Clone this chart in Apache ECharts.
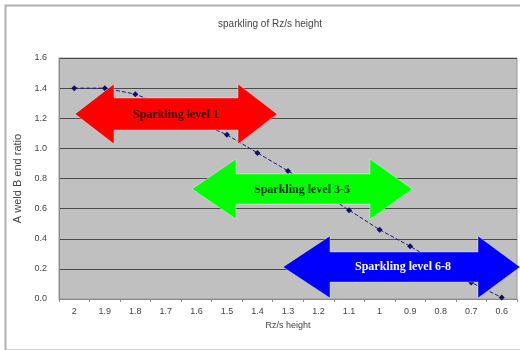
<!DOCTYPE html>
<html>
<head>
<meta charset="utf-8">
<script src="https://cdn.jsdelivr.net/npm/echarts@6/dist/echarts.min.js"></script>
<style>
  html, body { margin: 0; padding: 0; background: #ffffff; }
  #chart { width: 520px; height: 350px; }
</style>
</head>
<body>
<div id="chart"></div>
<script>
// Rz/s height categories along the x axis
var heights = ['2', '1.9', '1.8', '1.7', '1.6', '1.5', '1.4', '1.3', '1.2', '1.1', '1', '0.9', '0.8', '0.7', '0.6'];
// measured A/B end ratio per height
var ratios = [1.40, 1.40, 1.36, 1.28, 1.18, 1.09, 0.97, 0.85, 0.72, 0.59, 0.46, 0.35, 0.23, 0.11, 0.01];
// y axis range
var yMin = 0, yMax = 1.6, yStep = 0.2;
// level bands shown as double arrows
var levelLabels = ['Sparkling level 1', 'Sparkling level 3-5', 'Sparkling level 6-8'];

function doubleArrow(x0, x1, x2, x3, yc, shaftHalf, headHalf) {
  return [
    [x0, yc],
    [x1, yc - headHalf],
    [x1, yc - shaftHalf],
    [x2, yc - shaftHalf],
    [x2, yc - headHalf],
    [x3, yc],
    [x2, yc + headHalf],
    [x2, yc + shaftHalf],
    [x1, yc + shaftHalf],
    [x1, yc + headHalf]
  ];
}

function arrowShapes(points, fill, text, textColor, cx, cy) {
  return [
    {
      type: 'polygon',
      z: 100,
      shape: { points: points },
      style: { fill: fill, stroke: 'rgba(255,255,255,0.35)', lineWidth: 1 }
    },
    {
      type: 'text',
      z: 101,
      x: cx,
      y: cy,
      style: {
        text: text,
        fill: textColor,
        font: 'bold 12px "Liberation Serif", "DejaVu Serif", serif',
        align: 'center',
        verticalAlign: 'middle'
      }
    }
  ];
}

var chart = echarts.init(document.getElementById('chart'), null, { renderer: 'canvas' });

var graphics = [{
  type: 'rect',
  z: 0,
  shape: { x: 5.5, y: 5.5, width: 520, height: 345 },
  style: { fill: 'none', stroke: '#b0b0b0', lineWidth: 2 }
}].concat(
  arrowShapes(doubleArrow(75, 114, 238, 277, 114, 16, 30), '#ff0000', levelLabels[0], '#3a0000', 176, 115),
  arrowShapes(doubleArrow(192, 236, 370, 412, 189, 15, 30), '#00ff00', levelLabels[1], '#0a2a0a', 302, 190),
  arrowShapes(doubleArrow(283, 330, 478, 520, 267, 15, 31), '#0000ff', levelLabels[2], '#ffffff', 403, 267)
);

chart.setOption({
  animation: false,
  backgroundColor: '#ffffff',
  title: {
    text: 'sparkling of Rz/s height',
    left: 265,
    top: 14,
    textAlign: 'center',
    textStyle: { fontSize: 10, fontWeight: 'normal', color: '#444', fontFamily: 'Arial, "Liberation Sans", sans-serif' }
  },
  grid: { left: 59, right: 3, top: 58, bottom: 51, show: true, backgroundColor: '#c0c0c0', borderColor: '#9a9a9a', borderWidth: 1 },
  xAxis: {
    type: 'category',
    data: heights,
    boundaryGap: true,
    name: 'Rz/s height',
    nameLocation: 'middle',
    nameGap: 22,
    nameTextStyle: { fontSize: 9, color: '#444', fontFamily: 'Arial, "Liberation Sans", sans-serif' },
    axisLine: { lineStyle: { color: '#8a8a8a' } },
    axisTick: { show: true, alignWithLabel: false, length: 3, lineStyle: { color: '#8a8a8a' } },
    axisLabel: { fontSize: 9, color: '#444', margin: 8, interval: 0, fontFamily: 'Arial, "Liberation Sans", sans-serif' },
    splitLine: { show: false }
  },
  yAxis: {
    type: 'value',
    min: yMin,
    max: yMax,
    interval: yStep,
    name: 'A weld B end ratio',
    nameLocation: 'middle',
    nameRotate: 90,
    nameGap: 34,
    nameTextStyle: { fontSize: 11, color: '#444', fontFamily: 'Arial, "Liberation Sans", sans-serif' },
    axisLine: { show: true, lineStyle: { color: '#8a8a8a' } },
    axisTick: { show: false },
    axisLabel: {
      fontSize: 9, color: '#444', margin: 12,
      fontFamily: 'Arial, "Liberation Sans", sans-serif',
      formatter: function (v) { return v.toFixed(1); }
    },
    splitLine: { show: true, lineStyle: { color: '#4a4a4a', width: 1 } }
  },
  series: [{
    type: 'line',
    data: ratios,
    symbol: 'diamond',
    symbolSize: 6,
    itemStyle: { color: '#10106a' },
    lineStyle: { color: '#1a1a80', width: 1, type: 'dashed' },
    z: 3
  }],
  graphic: graphics
});
</script>
</body>
</html>
